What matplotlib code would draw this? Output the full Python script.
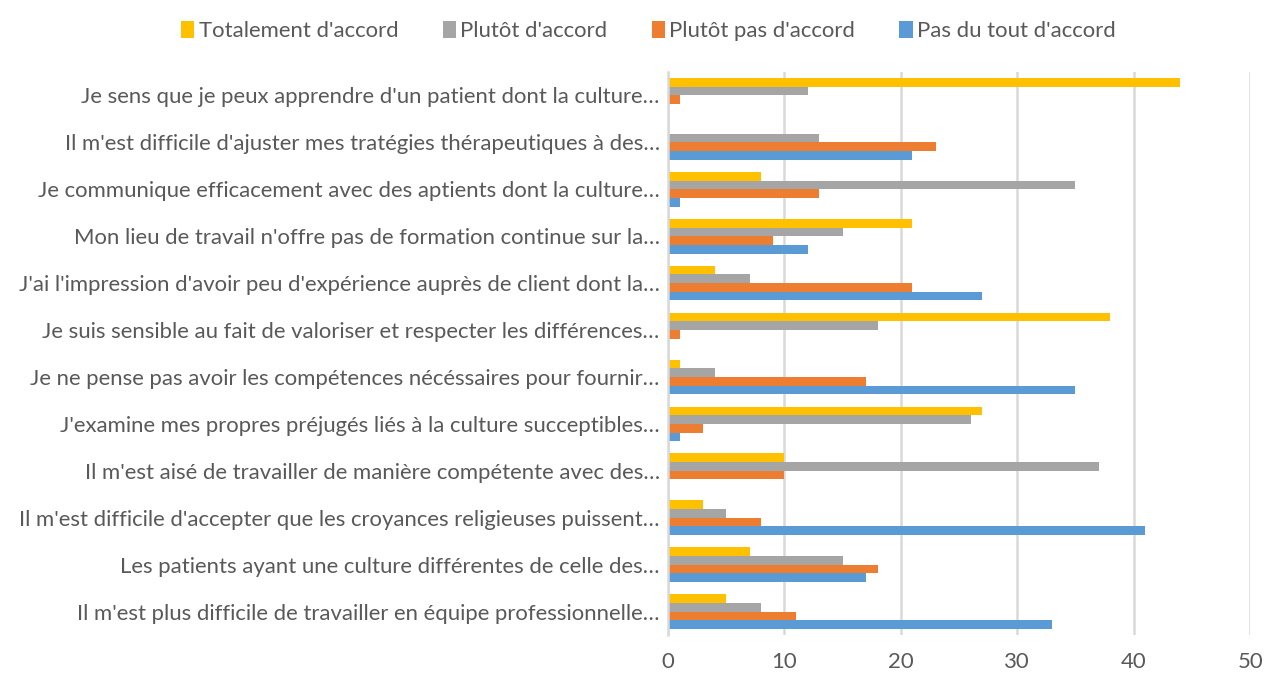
import matplotlib.pyplot as plt
import numpy as np

questions = [
    "Je sens que je peux apprendre d'un patient dont la culture…",
    "Il m'est difficile d'ajuster mes tratégies thérapeutiques à des…",
    "Je communique efficacement avec des aptients dont la culture…",
    "Mon lieu de travail n'offre pas de formation continue sur la…",
    "J'ai l'impression d'avoir peu d'expérience auprès de client dont la…",
    "Je suis sensible au fait de valoriser et respecter les différences…",
    "Je ne pense pas avoir les compétences nécéssaires pour fournir…",
    "J'examine mes propres préjugés liés à la culture succeptibles…",
    "Il m'est aisé de travailler de manière compétente avec des…",
    "Il m'est difficile d'accepter que les croyances religieuses puissent…",
    "Les patients ayant une culture différentes de celle des…",
    "Il m'est plus difficile de travailler en équipe professionnelle…",
]
totalement = [44, 0, 8, 21, 4, 38, 1, 27, 10, 3, 7, 5]
plutot = [12, 13, 35, 15, 7, 18, 4, 26, 37, 5, 15, 8]
plutot_pas = [1, 23, 13, 9, 21, 1, 17, 3, 10, 8, 18, 11]
pas_du_tout = [0, 21, 1, 12, 27, 0, 35, 1, 0, 41, 17, 33]

series = [
    ("Totalement d'accord", totalement, "#ffc000"),
    ("Plutôt d'accord", plutot, "#a5a5a5"),
    ("Plutôt pas d'accord", plutot_pas, "#ed7d31"),
    ("Pas du tout d'accord", pas_du_tout, "#5b9bd5"),
]

plt.rcParams['font.family'] = ['Lato', 'DejaVu Sans']
text_col = "#595959"
fs = 15.9

fig = plt.figure(figsize=(12.64, 6.73), dpi=100)
ax = fig.add_axes([0.5285, 0.0565, 0.9890 - 0.5285, 0.893 - 0.0565])

n = len(questions)
y = np.arange(n)[::-1]
h = 0.185
offsets = [1.5 * h, 0.5 * h, -0.5 * h, -1.5 * h]
for (name, vals, col), off in zip(series, offsets):
    ax.barh(y + off, vals, height=h, color=col, label=name, linewidth=0)

ax.set_xlim(0, 50)
ax.set_ylim(-0.5, n - 0.5)
ax.set_xticks(range(0, 51, 10))
ax.set_yticks(y)
ax.set_yticklabels(questions)
ax.tick_params(axis="both", length=0, labelsize=fs, colors=text_col, pad=6)
ax.tick_params(axis="x", pad=12)
ax.grid(axis="x", color="#d9d9d9", linewidth=1.8)
ax.set_axisbelow(True)
for s in ["top", "right", "bottom"]:
    ax.spines[s].set_visible(False)
ax.spines["left"].set_color("#d9d9d9")
ax.spines["left"].set_linewidth(1.8)

leg = fig.legend(loc="upper center", bbox_to_anchor=(0.513, 0.998), ncol=4,
                 frameon=False, fontsize=fs, handlelength=0.6, handleheight=0.8,
                 handletextpad=0.2, columnspacing=2.0)
for t in leg.get_texts():
    t.set_color(text_col)

fig.savefig("out.png", dpi=100)
